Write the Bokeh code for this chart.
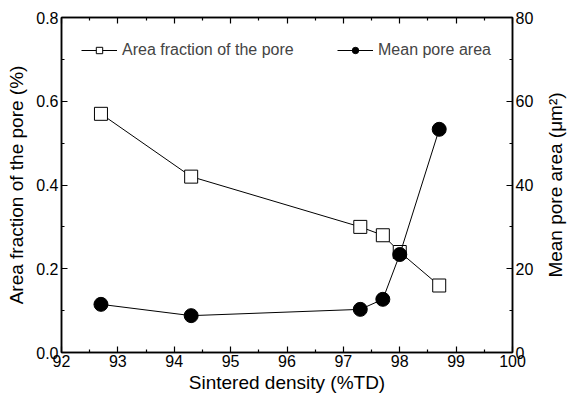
from bokeh.plotting import figure
from bokeh.layouts import row
from bokeh.models import (Range1d, LinearAxis, Legend, LegendItem, FixedTicker,
                          CustomJSTickFormatter, Title)
from bokeh.embed import file_html
from bokeh.resources import INLINE

density = [92.7, 94.3, 97.3, 97.7, 98.0, 98.7]
area_fraction = [0.57, 0.42, 0.30, 0.28, 0.24, 0.16]
mean_area = [11.5, 8.8, 10.3, 12.7, 23.4, 53.3]

x_ticks = [92, 93, 94, 95, 96, 97, 98, 99, 100]
x_minor = [92.5, 93.5, 94.5, 95.5, 96.5, 97.5, 98.5, 99.5]
left_ticks = [0.0, 0.2, 0.4, 0.6, 0.8]
left_minor = [0.1, 0.3, 0.5, 0.7]
right_ticks = [0, 20, 40, 60, 80]
right_minor = [10, 30, 50, 70]

FONT = "Liberation Sans"

p = figure(width=542, height=402, output_backend="svg", toolbar_location=None,
           x_range=Range1d(92, 100), y_range=Range1d(0, 0.8),
           min_border_left=61, min_border_right=30, min_border_top=17, min_border_bottom=50)
p.extra_y_ranges = {"r": Range1d(0, 80)}
p.grid.visible = False
p.outline_line_color = "black"
p.outline_line_width = 1.5
p.background_fill_color = "white"
p.border_fill_color = "white"

def style(ax):
    ax.major_tick_in = 6
    ax.major_tick_out = 0
    ax.minor_tick_in = 3
    ax.minor_tick_out = 0
    ax.axis_line_width = 1.5
    ax.major_tick_line_width = 1.2
    ax.minor_tick_line_width = 1.2
    ax.major_label_text_font = FONT
    ax.major_label_text_font_size = "16px"
    ax.major_label_text_color = "black"
    ax.axis_label_text_font = FONT
    ax.axis_label_text_font_size = "19px"
    ax.axis_label_text_font_style = "normal"
    ax.axis_label_text_color = "black"

xa = p.xaxis[0]
xa.ticker = FixedTicker(ticks=x_ticks, minor_ticks=x_minor)
xa.axis_label = "Sintered density (%TD)"
xa.major_label_standoff = 2
xa.axis_label_standoff = 2
style(xa)

ya = p.yaxis[0]
ya.ticker = FixedTicker(ticks=left_ticks, minor_ticks=left_minor)
ya.axis_label = "Area fraction of the pore (%)"
ya.major_label_standoff = 3
ya.axis_label_standoff = 6
ya.formatter = CustomJSTickFormatter(code="return tick.toFixed(1);")
style(ya)

ra = LinearAxis(y_range_name="r",
                ticker=FixedTicker(ticks=right_ticks, minor_ticks=right_minor))
ra.major_label_standoff = 3
style(ra)
p.add_layout(ra, "right")

ta = LinearAxis(ticker=FixedTicker(ticks=x_ticks, minor_ticks=x_minor),
                formatter=CustomJSTickFormatter(code="return '';"))
style(ta)
ta.major_label_standoff = 0
p.add_layout(ta, "above")

l1 = p.line(density, area_fraction, line_color="black", line_width=1)
s1 = p.scatter(density, area_fraction, marker="square", size=13, fill_color="white",
               line_color="black", line_width=1)
l2 = p.line(density, mean_area, y_range_name="r", line_color="black", line_width=1)
s2 = p.scatter(density, mean_area, y_range_name="r", marker="circle", size=14,
               fill_color="black", line_color="black")

for items, loc in (([LegendItem(label="Area fraction of the pore", renderers=[l1, s1])], (14, 287)),
                   ([LegendItem(label="Mean pore area", renderers=[l2, s2])], (270, 287))):
    lg = Legend(items=items, location=loc, border_line_alpha=0, background_fill_alpha=0,
                label_text_font=FONT, label_text_font_size="16px", glyph_width=36,
                glyph_height=16, label_standoff=5, padding=6, margin=0)
    p.add_layout(lg, "center")

# narrow companion panel carrying the right-axis title, reading bottom-to-top
p2 = figure(width=27, height=402, output_backend="svg", toolbar_location=None,
            x_range=Range1d(0, 1), y_range=Range1d(0, 1),
            min_border_left=0, min_border_right=0, min_border_top=17, min_border_bottom=50)
p2.axis.visible = False
p2.grid.visible = False
p2.outline_line_color = None
p2.border_fill_color = "white"
p2.background_fill_color = "white"
p2.add_layout(Title(text="Mean pore area (μm²)", align="center", text_font=FONT,
                    text_font_size="19px", text_font_style="normal", text_color="black",
                    standoff=0, offset=0), "left")

layout = row(p, p2, spacing=0)
open("out.html", "w").write(file_html(layout, INLINE))
